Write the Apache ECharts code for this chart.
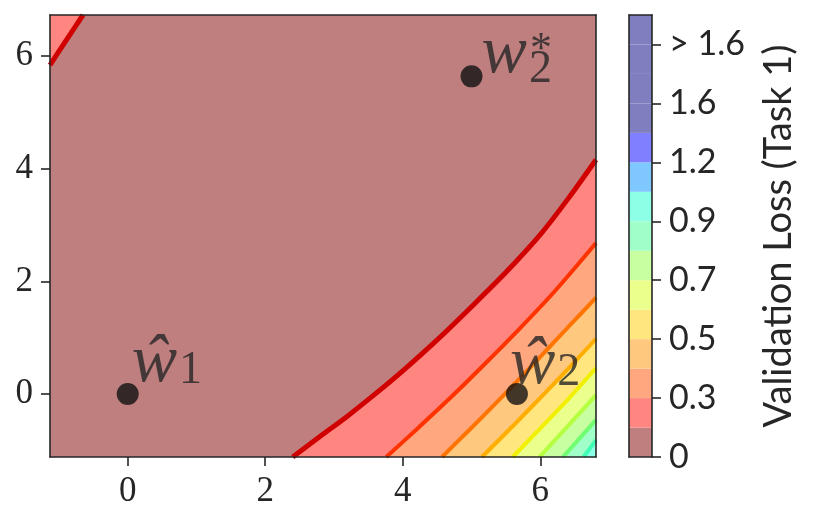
<!DOCTYPE html>
<html><head><meta charset="utf-8">
<script src="https://cdn.jsdelivr.net/npm/echarts@6/dist/echarts.min.js"></script>
<style>html,body{margin:0;padding:0;background:#fff}#c{width:822px;height:525px}</style>
</head><body><div id="c"></div>
<script>
// ---- data ----
const xRange = [-1.13, 6.81];
const yRange = [-1.12, 6.73];
const axisTickValues = [0, 2, 4, 6];

// contour of level 1 in the upper-left corner (region above it is level band 1)
const contourTopLeft = [[-1.13, 5.84], [-0.89, 6.29], [-0.65, 6.73]];
// contours in the lower-right (region below/right of each is the next band)
const contour1 = [[2.40,-1.12],[2.8,-0.75],[3.2,-0.39],[3.6,0.0],[4.0,0.41],[4.5,0.96],[5.0,1.55],[5.5,2.16],[6.0,2.83],[6.4,3.46],[6.81,4.16]];
const contour2 = [[3.76,-1.12],[4.2,-0.63],[4.7,-0.06],[5.2,0.54],[5.7,1.16],[6.2,1.81],[6.81,2.68]];
const contour3 = [[4.57,-1.12],[5.0,-0.6],[5.5,0.02],[6.0,0.66],[6.4,1.18],[6.81,1.71]];
const contour4 = [[5.15,-1.12],[5.6,-0.57],[6.0,-0.07],[6.4,0.44],[6.81,0.98]];
const contour5 = [[5.6,-1.12],[6.0,-0.61],[6.4,-0.1],[6.81,0.46]];
const contour6 = [[5.99,-1.12],[6.4,-0.57],[6.81,-0.02]];
const contour7 = [[6.33,-1.12],[6.81,-0.46]];
const contour8 = [[6.63,-1.12],[6.81,-0.82]];

const pointNames = ['w1hat', 'w2star', 'w2hat'];
const pointCoords = [[0, 0], [5.0, 5.64], [5.66, 0]];

const colorbarBands = 15;
const colorbarTickPos = [0, 2, 4, 6, 8, 10, 12, 14];
const colorbarTickLabels = ['0', '0.3', '0.5', '0.7', '0.9', '1.2', '1.6', '> 1.6'];
const colorbarTitle = 'Validation Loss (Task 1)';

// ---- styles ----
const ink = '#262626';
const bandColors = ['#bf7f7f','#ff8680','#ffa77f','#ffc87f','#ffe67f','#ebff8c','#c8ffa0','#a0ffc8','#8cffe6','#7fc8ff','#7f7fff','#7f7fbf','#7f7fbf','#7f7fbf','#7f7fbf'];
const contourLineColors = ['#d00000','#ff3300','#ff7400','#ffae00','#f0f000','#b4ff40','#70ff70','#40ffb4'];
const contourLineWidths = [5, 4, 4, 4, 4, 4, 4, 4];
const serif = '"Liberation Serif", "DejaVu Serif", serif';
const sans = 'Lato, "Liberation Sans", sans-serif';

const contours = [contour1, contour2, contour3, contour4, contour5, contour6, contour7, contour8];

const series = [];
series.push({
  type: 'line', xAxisIndex: 0, yAxisIndex: 0, data: contourTopLeft, symbol: 'none', smooth: 0.3,
  lineStyle: {color: contourLineColors[0], width: contourLineWidths[0]},
  areaStyle: {color: bandColors[1], opacity: 1, origin: 'end'}, z: 2, silent: true
});
contours.forEach((c, i) => {
  series.push({
    type: 'line', xAxisIndex: 0, yAxisIndex: 0, data: c, symbol: 'none', smooth: 0.3,
    lineStyle: {color: contourLineColors[i], width: contourLineWidths[i]},
    areaStyle: {color: bandColors[i + 1], opacity: 1, origin: 'start'}, z: 2, silent: true
  });
});

// point labels (rich text)
const wStyle = {fontFamily: serif, fontStyle: 'italic', fontSize: 68, lineHeight: 60, color: ink};
const labelDefs = {
  w1hat: {text: '{w|ŵ}{sub|1}', pos: [15, 10], subPad: 16},
  w2star: {text: '{w|w}{sub2|2}{sup|*}', pos: [21, 19], subPad: 32},
  w2hat: {text: '{w|ŵ}{sub|2}', pos: [4, 12], subPad: 16}
};
const pointData = pointNames.map((n, i) => {
  const d = labelDefs[n];
  return {
    value: pointCoords[i],
    label: {
      show: true, position: d.pos, align: 'left', verticalAlign: 'bottom',
      formatter: d.text,
      rich: {
        w: wStyle,
        sub: {fontFamily: serif, fontSize: 46, lineHeight: 28, padding: [d.subPad, 0, 0, 2], color: ink},
        sub2: {fontFamily: serif, fontSize: 46, lineHeight: 28, padding: [d.subPad, 0, 0, 2], width: 1, color: ink},
        sup: {fontFamily: serif, fontSize: 44, lineHeight: 28, padding: [0, 0, 8, 0], color: ink}
      }
    }
  };
});
series.push({
  type: 'scatter', xAxisIndex: 0, yAxisIndex: 0, data: pointData, symbolSize: 22,
  itemStyle: {color: '#111111'}, z: 5, silent: true
});

// colorbar bands
for (let i = 0; i < colorbarBands; i++) {
  series.push({
    type: 'bar', xAxisIndex: 2, yAxisIndex: 2, stack: 'cb', data: [1],
    barWidth: '100%', itemStyle: {color: bandColors[i]}, silent: true
  });
}

const frameLine = {show: true, onZero: false, lineStyle: {color: ink, width: 1.6}};
const noAxisParts = {axisTick: {show: false}, axisLabel: {show: false}, splitLine: {show: false}};

const option = {
  animation: false,
  backgroundColor: '#ffffff',
  grid: [
    {left: 50, top: 15, right: 226, bottom: 68, show: true, backgroundColor: bandColors[0], borderWidth: 0},
    {left: 629, top: 15, width: 23, bottom: 68, show: false}
  ],
  xAxis: [
    {type: 'value', gridIndex: 0, min: xRange[0], max: xRange[1], position: 'bottom', z: 10,
     axisLine: frameLine,
     axisTick: {show: true, customValues: axisTickValues, length: 9, lineStyle: {color: ink, width: 1.6}},
     axisLabel: {customValues: axisTickValues, margin: 17, fontFamily: serif, fontSize: 35, color: ink},
     splitLine: {show: false}},
    Object.assign({type: 'value', gridIndex: 0, min: xRange[0], max: xRange[1], position: 'top', z: 10, axisLine: frameLine}, noAxisParts),
    {type: 'category', gridIndex: 1, data: ['cb'], position: 'bottom', z: 10, axisLine: frameLine,
     axisTick: {show: false}, axisLabel: {show: false}, splitLine: {show: false}},
    Object.assign({type: 'value', gridIndex: 1, min: 0, max: 1, position: 'top', z: 10, axisLine: frameLine}, noAxisParts)
  ],
  yAxis: [
    {type: 'value', gridIndex: 0, min: yRange[0], max: yRange[1], position: 'left', z: 10,
     axisLine: frameLine,
     axisTick: {show: true, customValues: axisTickValues, length: 9, lineStyle: {color: ink, width: 1.6}},
     axisLabel: {customValues: axisTickValues, margin: 17, fontFamily: serif, fontSize: 35, color: ink},
     splitLine: {show: false}},
    Object.assign({type: 'value', gridIndex: 0, min: yRange[0], max: yRange[1], position: 'right', z: 10, axisLine: frameLine}, noAxisParts),
    {type: 'value', gridIndex: 1, min: 0, max: colorbarBands, position: 'right', z: 10,
     axisLine: frameLine,
     axisTick: {show: true, customValues: colorbarTickPos, length: 9, lineStyle: {color: ink, width: 1.6}},
     axisLabel: {customValues: colorbarTickPos, margin: 17, fontFamily: sans, fontSize: 34, color: ink,
       formatter: v => colorbarTickLabels[colorbarTickPos.indexOf(v)]},
     splitLine: {show: false},
     name: colorbarTitle, nameLocation: 'middle', nameRotate: 90, nameGap: 108,
     nameTextStyle: {fontFamily: sans, fontSize: 38, color: ink}},
    Object.assign({type: 'value', gridIndex: 1, min: 0, max: 1, position: 'left', z: 10, axisLine: frameLine}, noAxisParts)
  ],
  series: series
};
const chart = echarts.init(document.getElementById('c'));
chart.setOption(option);
</script>
</body></html>
